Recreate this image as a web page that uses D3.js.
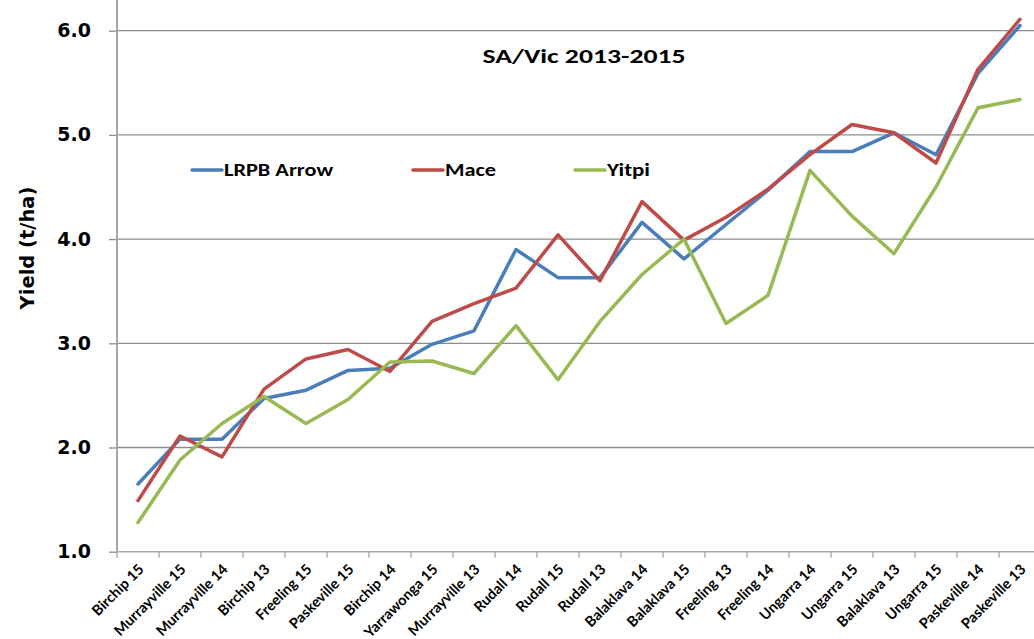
<!DOCTYPE html>
<html>
<head>
<meta charset="utf-8">
<script src="https://cdn.jsdelivr.net/npm/d3@7"></script>
<style>
  html, body { margin: 0; padding: 0; background: #fff; }
  svg { display: block; }
</style>
</head>
<body>
<svg id="chart" width="1034" height="639"></svg>
<script>
const categories = ["Birchip 15","Murrayville 15","Murrayville 14","Birchip 13","Freeling 15","Paskeville 15","Birchip 14","Yarrawonga 15","Murrayville 13","Rudall 14","Rudall 15","Rudall 13","Balaklava 14","Balaklava 15","Freeling 13","Freeling 14","Ungarra 14","Ungarra 15","Balaklava 13","Ungarra 15","Paskeville 14","Paskeville 13"];
const arrow = [1.65,2.08,2.08,2.47,2.55,2.74,2.76,2.99,3.12,3.90,3.63,3.63,4.16,3.81,4.14,4.47,4.84,4.84,5.02,4.81,5.59,6.05];
const mace  = [1.49,2.11,1.91,2.56,2.85,2.94,2.73,3.21,3.38,3.53,4.04,3.60,4.36,3.99,4.21,4.48,4.81,5.10,5.02,4.73,5.63,6.11];
const yitpi = [1.28,1.88,2.23,2.49,2.23,2.46,2.82,2.83,2.71,3.17,2.65,3.21,3.66,4.00,3.19,3.46,4.66,4.22,3.86,4.50,5.26,5.34];
const yTicks = [1,2,3,4,5,6];
const seriesNames = ["LRPB Arrow","Mace","Yitpi"];
const seriesColors = ["#4A7EBB","#BE4B48","#98B954"];
const seriesValues = [arrow, mace, yitpi];

const svg = d3.select("#chart");
const left = 117, right = 1041, bottom = 551.7;
const idx = d3.range(categories.length);
const x = d3.scaleBand().domain(idx).range([left, right]).padding(0);
const y = d3.scaleLinear().domain([1, 7]).range([bottom, bottom - 6 * 104.2]);
const cx = i => x(i) + x.bandwidth() / 2;

// gridlines
svg.append("g").selectAll("line").data(yTicks.filter(d => d > 1)).join("line")
  .attr("x1", left).attr("x2", right)
  .attr("y1", d => y(d)).attr("y2", d => y(d))
  .attr("stroke", "#8c8c8c").attr("stroke-width", 1.3);

// y axis
const yAxis = svg.append("g").attr("transform", `translate(${left},0)`)
  .call(d3.axisLeft(y).tickValues(yTicks).tickFormat(d3.format(".1f")).tickSize(8).tickPadding(18));
yAxis.select(".domain").remove();
yAxis.append("line").attr("x1", 0).attr("x2", 0).attr("y1", 0).attr("y2", bottom)
  .attr("stroke", "#a6a6a6").attr("stroke-width", 2);
yAxis.selectAll(".tick line").attr("stroke", "#8c8c8c").attr("stroke-width", 1.3);
yAxis.selectAll(".tick text")
  .attr("font-family", "'DejaVu Sans', Verdana, sans-serif")
  .attr("font-weight", "bold").attr("font-size", 19).attr("fill", "#000");

// x axis line + ticks at band edges
const xg = svg.append("g");
xg.append("line").attr("x1", left).attr("x2", right).attr("y1", bottom).attr("y2", bottom)
  .attr("stroke", "#a6a6a6").attr("stroke-width", 1.5);
xg.selectAll("line.tk").data(idx).join("line").attr("class", "tk")
  .attr("x1", i => x(i)).attr("x2", i => x(i))
  .attr("y1", bottom).attr("y2", bottom + 6)
  .attr("stroke", "#a6a6a6").attr("stroke-width", 1.3);
xg.selectAll("text").data(idx).join("text")
  .attr("transform", i => `translate(${cx(i) + 3},${bottom + 15}) rotate(-45)`)
  .attr("text-anchor", "end").attr("dy", "0.35em")
  .attr("font-family", "Lato, 'Open Sans', sans-serif").attr("font-weight", "bold")
  .attr("font-size", 14.5).attr("fill", "#000")
  .text(i => categories[i]);

// lines
const line = d3.line().x((d, i) => cx(i)).y(d => y(d));
seriesValues.forEach((vals, k) => {
  svg.append("path").datum(vals)
    .attr("d", line).attr("fill", "none")
    .attr("stroke", seriesColors[k]).attr("stroke-width", 3.5)
    .attr("stroke-linejoin", "round").attr("stroke-linecap", "round");
});

// y label
svg.append("text")
  .attr("transform", "translate(34,248) rotate(-90)")
  .attr("text-anchor", "middle")
  .attr("font-family", "'DejaVu Sans', Verdana, sans-serif")
  .attr("font-weight", "bold").attr("font-size", 19.5).attr("fill", "#000")
  .text("Yield (t/ha)");

// subtitle
svg.append("text")
  .attr("x", 584).attr("y", 63).attr("text-anchor", "middle")
  .attr("font-family", "Carlito, 'Liberation Sans Narrow', 'Open Sans', sans-serif")
  .attr("font-weight", "bold").attr("font-size", 21).attr("fill", "#000")
  .attr("textLength", 203).attr("lengthAdjust", "spacingAndGlyphs")
  .text("SA/Vic 2013-2015");

// legend
const legendX = [192, 413, 575];
const legendW = [109, 51, 43];
const lg = svg.append("g");
seriesNames.forEach((name, k) => {
  lg.append("line").attr("x1", legendX[k]).attr("x2", legendX[k] + 30)
    .attr("y1", 170).attr("y2", 170)
    .attr("stroke", seriesColors[k]).attr("stroke-width", 3.5).attr("stroke-linecap", "round");
  lg.append("text").attr("x", legendX[k] + 32).attr("y", 176)
    .attr("font-family", "Carlito, 'Liberation Sans Narrow', 'Open Sans', sans-serif")
    .attr("font-weight", "bold").attr("font-size", 18.5).attr("fill", "#000")
    .attr("textLength", legendW[k]).attr("lengthAdjust", "spacingAndGlyphs")
    .text(name);
});
</script>
</body>
</html>
